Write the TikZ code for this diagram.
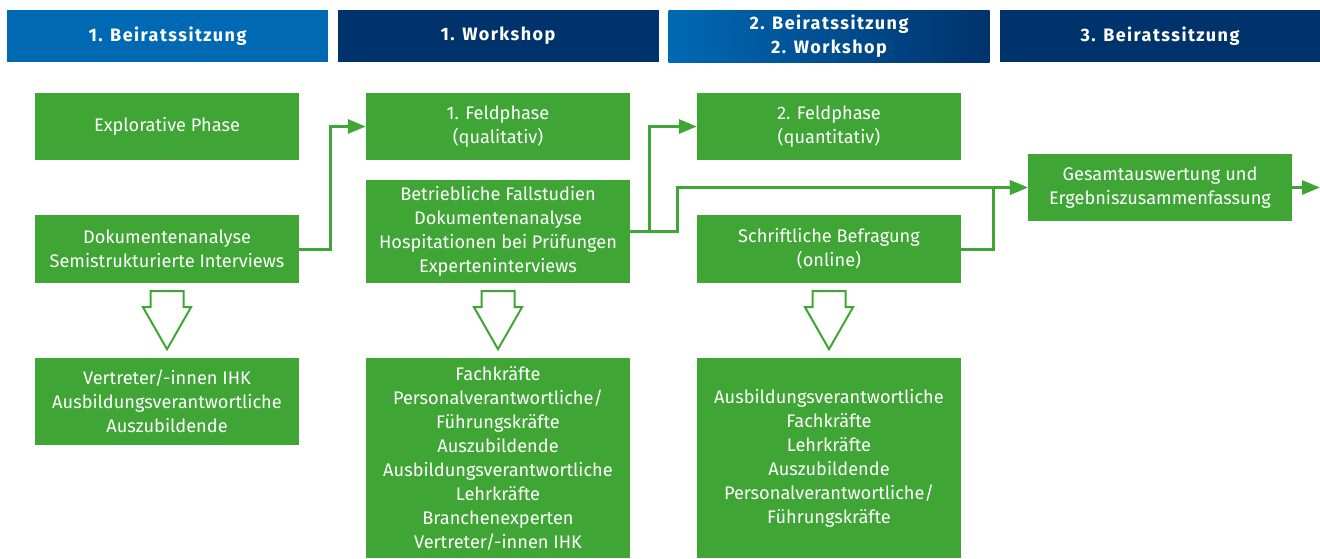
\documentclass[tikz,border=0pt]{standalone}
\usepackage{fontspec}
\setmainfont{Fira Sans}
\usetikzlibrary{arrows.meta}
\definecolor{projgreen}{RGB}{63,165,53}
\definecolor{lightblue}{RGB}{0,105,180}
\definecolor{navy}{RGB}{0,51,108}
\tikzset{
  hdr/.style={minimum width=321pt, minimum height=52pt, inner sep=0pt, align=center,
    text=white, font=\fontsize{18}{24}\selectfont\bfseries\addfontfeature{LetterSpace=8}},
  gbox/.style={fill=projgreen, minimum width=264pt, inner sep=0pt, align=center,
    text=white, font=\fontsize{18.2}{24}\selectfont},
  conn/.style={draw=projgreen, line width=3pt, -{Triangle[length=18pt,width=14pt]}},
  hollow/.style={draw=projgreen, line width=2pt, fill=white, line join=miter},
}
\begin{document}
\begin{tikzpicture}[x=1pt, y=-1pt]
\useasboundingbox (0,0) rectangle (1320,558);

% phase headers
\node[hdr, fill=lightblue] (h1) at (167.5,36) {1. Beiratssitzung};
\node[hdr, fill=navy] (h2) at (498,36) {1. Workshop};
\node[hdr, left color=lightblue, right color=navy] (h3) at (829,36) {2. Beiratssitzung\\2. Workshop};
\node[hdr, fill=navy] (h4) at (1160,36) {3. Beiratssitzung};

% column 1
\node[gbox, minimum height=67pt] (expl) at (167,126.5) {Explorative Phase};
\node[gbox, minimum height=68pt] (dok) at (167,249) {Dokumentenanalyse\\Semistrukturierte Interviews};
\node[gbox, minimum height=87pt] (vert) at (167,401.5) {Vertreter/-innen IHK\\Ausbildungsverantwortliche\\Auszubildende};

% column 2
\node[gbox, minimum height=67pt] (feld1) at (498,126.5) {1. Feldphase\\(qualitativ)};
\node[gbox, minimum height=103pt] (betr) at (498,231.5) {Betriebliche Fallstudien\\Dokumentenanalyse\\Hospitationen bei Prüfungen\\Experteninterviews};
\node[gbox, minimum height=200pt] (fach) at (498,458) {Fachkräfte\\Personalverantwortliche/\\Führungskräfte\\Auszubildende\\Ausbildungsverantwortliche\\Lehrkräfte\\Branchenexperten\\Vertreter/-innen IHK};

% column 3
\node[gbox, minimum height=67pt] (feld2) at (829,126.5) {2. Feldphase\\(quantitativ)};
\node[gbox, minimum height=68pt] (schr) at (829,249) {Schriftliche Befragung\\(online)};
\node[gbox, minimum height=200pt] (ausb) at (829,458) {Ausbildungsverantwortliche\\Fachkräfte\\Lehrkräfte\\Auszubildende\\Personalverantwortliche/\\Führungskräfte};

% column 4
\node[gbox, minimum height=67pt] (ges) at (1160,187.5) {Gesamtauswertung und\\Ergebniszusammenfassung};
\coordinate (out) at (1320,187.5);

% flow connectors
\draw[conn] (dok.east) -- ++(31,0) |- (feld1.west);
\draw[conn] (betr.east) -- ++(19,0) |- (feld2.west);
\draw[conn] (betr.east) -- ++(47,0) |- (ges.west);
\draw[conn] (schr.east) -- ++(32,0) |- (ges.west);
\draw[conn] (ges.east) -- (out);

% hollow arrows towards the participant groups
\foreach \c in {dok, betr, schr} {
  \draw[hollow] ([yshift=-8pt]\c.south) ++(-16.5,0) -- ++(33,0) -- ++(0,16) -- ++(7.5,0)
    -- ++(-24,42) -- ++(-24,-42) -- ++(7.5,0) -- cycle;
}
\end{tikzpicture}
\end{document}
